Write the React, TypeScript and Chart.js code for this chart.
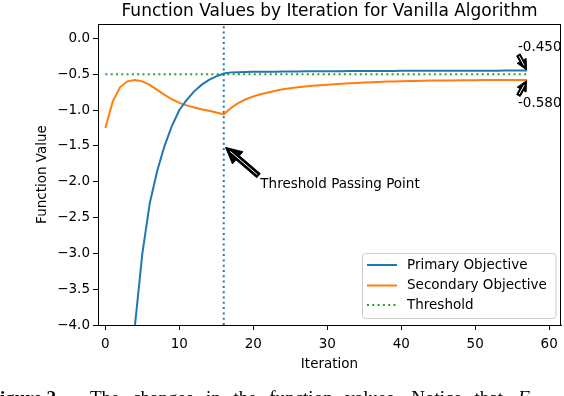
import React, { useEffect, useRef } from "react";
import { Chart, registerables } from "chart.js";

Chart.register(...registerables);

// ---------- data ----------
const iterations: number[] = Array.from({ length: 58 }, (_, i) => i);

const primaryValues: number[] = [
  -12.0, -9.0, -6.8, -5.2, -4.0, -3.0, -2.3, -1.85, -1.5, -1.22,
  -1.0, -0.86, -0.74, -0.65, -0.58, -0.53, -0.49, -0.475, -0.472, -0.47,
  -0.468, -0.467, -0.466, -0.465, -0.464, -0.463, -0.462, -0.461, -0.46, -0.46,
  -0.459, -0.458, -0.458, -0.457, -0.457, -0.456, -0.456, -0.455, -0.455, -0.455,
  -0.454, -0.454, -0.454, -0.453, -0.453, -0.453, -0.452, -0.452, -0.452, -0.452,
  -0.451, -0.451, -0.451, -0.451, -0.45, -0.45, -0.45, -0.45,
];

const secondaryValues: number[] = [
  -1.25, -0.88, -0.68, -0.6, -0.58, -0.6, -0.65, -0.72, -0.79, -0.85,
  -0.9, -0.935, -0.965, -0.99, -1.01, -1.035, -1.06, -0.97, -0.9, -0.85,
  -0.81, -0.78, -0.755, -0.732, -0.712, -0.697, -0.684, -0.672, -0.662, -0.653,
  -0.646, -0.639, -0.633, -0.627, -0.622, -0.617, -0.612, -0.608, -0.604, -0.601,
  -0.598, -0.596, -0.594, -0.592, -0.59, -0.589, -0.588, -0.587, -0.586, -0.585,
  -0.584, -0.583, -0.583, -0.582, -0.582, -0.581, -0.581, -0.58,
];

const thresholdValue = -0.5;
const thresholdIteration = 16;

const xTicks: number[] = [0, 10, 20, 30, 40, 50, 60];
const yTicks: number[] = [0.0, -0.5, -1.0, -1.5, -2.0, -2.5, -3.0, -3.5, -4.0];
const xRange: number[] = [-1, 61.6];
const yRange: number[] = [-4.0, 0.2];

const seriesLabels: string[] = ["Primary Objective", "Secondary Objective", "Threshold"];

const annotationTexts: string[] = ["-0.450", "-0.580", "Threshold Passing Point"];
const annotationX: number[] = [57, 57, 16];
const annotationY: number[] = [-0.45, -0.58, -1.5];

const titleText = "Function Values by Iteration for Vanilla Algorithm";
const xTitle = "Iteration";
const yTitle = "Function Value";
const captionLead = "Figure 2.";
const captionWords: string[] = ["The", "changes", "in", "the", "function", "values.", "Notice", "that"];
const captionSymbol = "F";
const captionSub = "i";

const FONT = "'DejaVu Sans', sans-serif";
const SERIF = "'Liberation Serif', serif";

function drawArrow(ctx: CanvasRenderingContext2D, x0: number, y0: number, x1: number, y1: number) {
  const dx = x1 - x0, dy = y1 - y0;
  const L = Math.hypot(dx, dy);
  const ux = dx / L, uy = dy / L;
  const sx = x0 + ux * L * 0.05, sy = y0 + uy * L * 0.05;
  const ex = x1 - ux * L * 0.05, ey = y1 - uy * L * 0.05;
  const len = L * 0.9;
  const hl = Math.min(16, len * 0.6);
  const hw = hl / 2, w = Math.min(2.7, hw / 2.5);
  const nx = -uy, ny = ux;
  const kx = ex - ux * hl, ky = ey - uy * hl;
  ctx.save();
  ctx.beginPath();
  ctx.moveTo(sx + nx * w, sy + ny * w);
  ctx.lineTo(kx + nx * w, ky + ny * w);
  ctx.lineTo(kx + nx * hw, ky + ny * hw);
  ctx.lineTo(ex, ey);
  ctx.lineTo(kx - nx * hw, ky - ny * hw);
  ctx.lineTo(kx - nx * w, ky - ny * w);
  ctx.lineTo(sx - nx * w, sy - ny * w);
  ctx.closePath();
  ctx.fillStyle = "#000";
  ctx.fill();
  ctx.strokeStyle = "#000";
  ctx.lineWidth = 1;
  ctx.stroke();
  ctx.beginPath();
  ctx.moveTo(sx + ux * 1.5, sy + uy * 1.5);
  ctx.lineTo(ex - ux * Math.min(6, len * 0.3), ey - uy * Math.min(6, len * 0.3));
  ctx.strokeStyle = "#fff";
  ctx.lineWidth = 1;
  ctx.stroke();
  ctx.restore();
}

const decorPlugin = {
  id: "decor",
  afterDraw(chart: any) {
    const ctx: CanvasRenderingContext2D = chart.ctx;
    const area = chart.chartArea;
    const xs = chart.scales.x;
    const ys = chart.scales.y;
    ctx.save();

    // frame
    ctx.strokeStyle = "#000";
    ctx.lineWidth = 1;
    ctx.strokeRect(Math.round(area.left) + 0.5, Math.round(area.top) + 0.5,
      Math.round(area.right - area.left) - 1, Math.round(area.bottom - area.top));

    // title
    ctx.fillStyle = "#000";
    ctx.font = `17px ${FONT}`;
    ctx.textAlign = "center";
    ctx.textBaseline = "middle";
    ctx.fillText(titleText, (area.left + area.right) / 2, 12);

    // axis titles
    ctx.font = `13.5px ${FONT}`;
    ctx.fillText(xTitle, (area.left + area.right) / 2, 364);
    ctx.save();
    ctx.translate(42, (area.top + area.bottom) / 2);
    ctx.rotate(-Math.PI / 2);
    ctx.fillText(yTitle, 0, 0);
    ctx.restore();

    // annotations
    const offsets = [
      { dx: -9, dy: -23.5 },
      { dx: -9, dy: 23.4 },
      { dx: 36.6, dy: 38.4 },
    ];
    ctx.font = `13.5px ${FONT}`;
    ctx.textAlign = "left";
    ctx.textBaseline = "middle";
    annotationTexts.forEach((t, i) => {
      const px = xs.getPixelForValue(annotationX[i]);
      const py = ys.getPixelForValue(annotationY[i]);
      const tx = px + offsets[i].dx;
      const ty = py + offsets[i].dy;
      ctx.fillStyle = "#000";
      ctx.fillText(t, tx, ty);
      const half = 7;
      const startY = ty > py ? ty - half : ty + half;
      drawArrow(ctx, tx, startY, px, py);
    });

    // legend
    const lx = 362.5, ly = 253.5, lw = 193.5, lh = 65;
    ctx.beginPath();
    (ctx as any).roundRect(lx, ly, lw, lh, 3);
    ctx.fillStyle = "rgba(255,255,255,0.8)";
    ctx.fill();
    ctx.strokeStyle = "#cccccc";
    ctx.lineWidth = 1;
    ctx.stroke();
    const rows = [265, 285.5, 305];
    chart.data.datasets.forEach((ds: any, i: number) => {
      if (!ds.label) return;
      const y = rows[i];
      ctx.beginPath();
      ctx.setLineDash(ds.borderDash || []);
      ctx.strokeStyle = ds.borderColor;
      ctx.lineWidth = ds.borderWidth;
      ctx.moveTo(367, y);
      ctx.lineTo(397, y);
      ctx.stroke();
      ctx.setLineDash([]);
      ctx.fillStyle = "#000";
      ctx.font = `13.5px ${FONT}`;
      ctx.textAlign = "left";
      ctx.textBaseline = "middle";
      ctx.fillText(ds.label, 407, y);
    });

    // caption (cropped at the bottom edge of the image)
    const base = 404;
    ctx.fillStyle = "#000";
    ctx.textAlign = "left";
    ctx.textBaseline = "alphabetic";
    ctx.font = `bold 19px ${SERIF}`;
    const fW = ctx.measureText("F").width;
    ctx.fillText(captionLead, -fW, base);
    ctx.font = `19px ${SERIF}`;
    const startX = 90, endX = 503;
    const widths = captionWords.map((w) => ctx.measureText(w).width);
    const total = widths.reduce((a, b) => a + b, 0);
    const gap = (endX - startX - total) / (captionWords.length - 1);
    let cx = startX;
    captionWords.forEach((w, i) => {
      ctx.fillText(w, cx, base);
      cx += widths[i] + gap;
    });
    ctx.font = `italic 19px ${SERIF}`;
    ctx.fillText(captionSymbol, 518, base);
    ctx.font = `14px ${SERIF}`;
    ctx.fillText(captionSub, 546, base + 4);

    ctx.restore();
  },
};

export default function App() {
  const canvasRef = useRef<HTMLCanvasElement | null>(null);

  useEffect(() => {
    if (!canvasRef.current) return;
    const primary = iterations.map((x, i) => ({ x, y: primaryValues[i] }));
    const secondary = iterations.map((x, i) => ({ x, y: secondaryValues[i] }));
    const threshold = [
      { x: iterations[0], y: thresholdValue },
      { x: iterations[iterations.length - 1], y: thresholdValue },
    ];
    const vline = [
      { x: thresholdIteration, y: yRange[0] },
      { x: thresholdIteration, y: yRange[1] },
    ];
    const chart = new Chart(canvasRef.current, {
      type: "line",
      data: {
        datasets: [
          {
            label: seriesLabels[0],
            data: primary,
            borderColor: "#1f77b4",
            backgroundColor: "#1f77b4",
            borderWidth: 2,
            pointRadius: 0,
            tension: 0,
            clip: 0,
          } as any,
          {
            label: seriesLabels[1],
            data: secondary,
            borderColor: "#ff7f0e",
            backgroundColor: "#ff7f0e",
            borderWidth: 2,
            pointRadius: 0,
            tension: 0,
            clip: 0,
          },
          {
            label: seriesLabels[2],
            data: threshold,
            borderColor: "#2ca02c",
            backgroundColor: "#2ca02c",
            borderWidth: 2,
            borderDash: [2, 3.3],
            pointRadius: 0,
            clip: 0,
          },
          {
            label: "",
            data: vline,
            borderColor: "#1f77b4",
            backgroundColor: "#1f77b4",
            borderWidth: 2,
            borderDash: [2, 3.3],
            pointRadius: 0,
            clip: 0,
          },
        ],
      },
      options: {
        animation: false,
        responsive: false,
        devicePixelRatio: 1,
        parsing: false as any,
        layout: { padding: { top: 24, right: 3, left: 0, bottom: 0 } },
        plugins: {
          legend: { display: false },
          title: { display: false },
          tooltip: { enabled: false },
        },
        scales: {
          x: {
            type: "linear",
            min: xRange[0],
            max: xRange[1],
            afterBuildTicks: (s: any) => {
              s.ticks = xTicks.map((v) => ({ value: v }));
            },
            afterFit: (s: any) => {
              s.height = 71;
            },
            ticks: {
              color: "#000",
              font: { family: FONT, size: 13.5 },
              padding: 6,
              maxRotation: 0,
              autoSkip: false,
              callback: (v: any) => String(v),
            },
            grid: {
              display: true,
              drawOnChartArea: false,
              drawTicks: true,
              tickLength: 5,
              tickColor: "#000",
              tickWidth: 1,
            },
            border: { display: true, color: "#000", width: 1 },
          },
          y: {
            type: "linear",
            min: yRange[0],
            max: yRange[1],
            afterBuildTicks: (s: any) => {
              s.ticks = yTicks.map((v) => ({ value: v }));
            },
            afterFit: (s: any) => {
              s.width = 98;
            },
            ticks: {
              color: "#000",
              font: { family: FONT, size: 13.5 },
              padding: 3,
              autoSkip: false,
              callback: (v: any) => Number(v).toFixed(1).replace("-", "\u2212"),
            },
            grid: {
              display: true,
              drawOnChartArea: false,
              drawTicks: true,
              tickLength: 5,
              tickColor: "#000",
              tickWidth: 1,
            },
            border: { display: true, color: "#000", width: 1 },
          },
        },
      },
      plugins: [decorPlugin],
    });
    return () => chart.destroy();
  }, []);

  return (
    <div style={{ position: "fixed", left: 0, top: 0, width: 564, height: 396, background: "#fff", overflow: "hidden" }}>
      <canvas ref={canvasRef} width={564} height={396} style={{ display: "block", width: 564, height: 396 }} />
    </div>
  );
}
